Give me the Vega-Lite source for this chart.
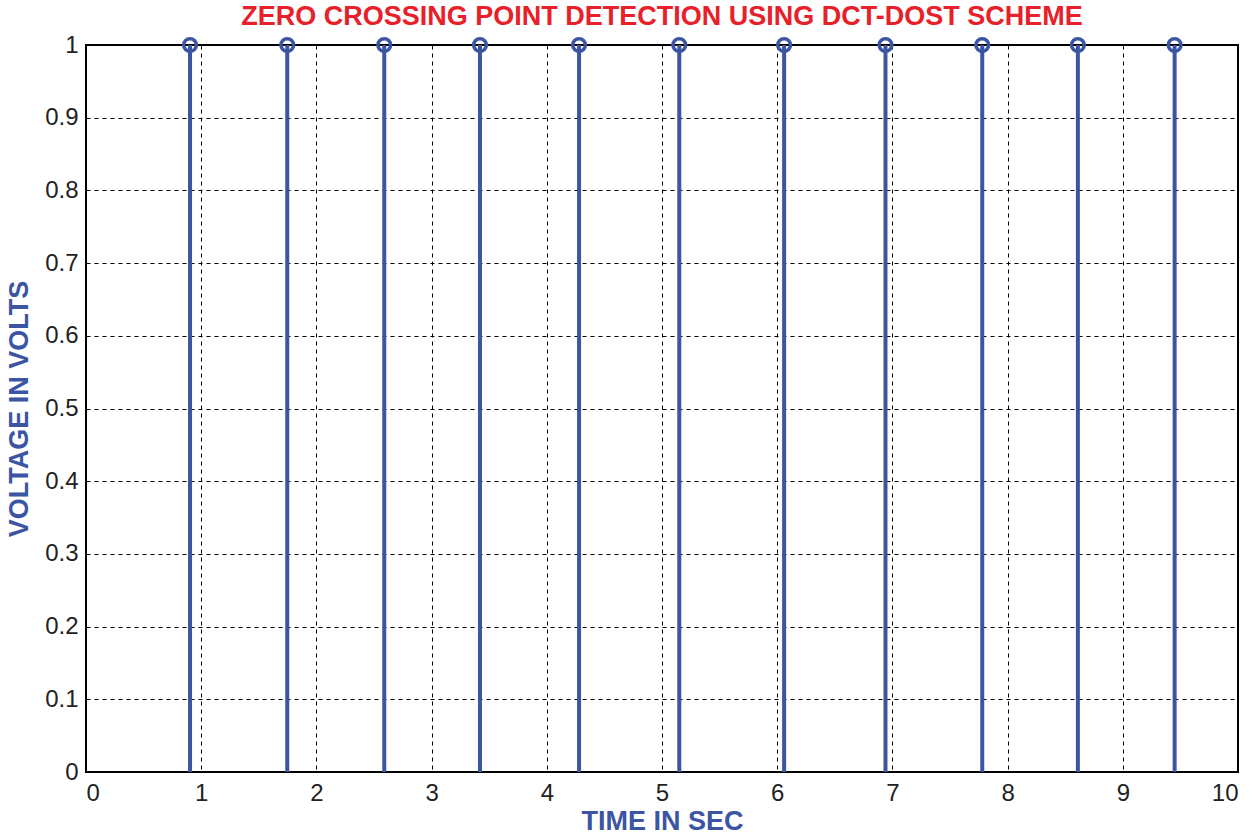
{
  "$schema": "https://vega.github.io/schema/vega-lite/v6.json",
  "autosize": "none",
  "width": 1152,
  "height": 727,
  "padding": {"left": 86, "top": 45, "right": 17, "bottom": 66},
  "background": "white",
  "title": {
    "text": "ZERO CROSSING POINT DETECTION USING DCT-DOST SCHEME",
    "font": "Liberation Sans",
    "fontSize": 27,
    "fontWeight": "bold",
    "color": "#E8202A",
    "anchor": "middle",
    "offset": 1
  },
  "config": {
    "view": {"stroke": "black", "strokeWidth": 2},
    "axis": {
      "grid": true,
      "gridColor": "black",
      "gridDash": [4, 4],
      "gridWidth": 1,
      "gridOpacity": 1,
      "domain": false,
      "ticks": false,
      "labelFont": "Liberation Sans",
      "labelFontSize": 24,
      "labelColor": "#222222",
      "labelPadding": 8,
      "titleFont": "Liberation Sans",
      "titleFontSize": 27,
      "titleFontWeight": "bold",
      "titleColor": "#3B55A3"
    }
  },
  "data": {
    "values": [
      {"t": 0.903, "v": 1},
      {"t": 1.747, "v": 1},
      {"t": 2.589, "v": 1},
      {"t": 3.42, "v": 1},
      {"t": 4.28, "v": 1},
      {"t": 5.15, "v": 1},
      {"t": 6.06, "v": 1},
      {"t": 6.94, "v": 1},
      {"t": 7.78, "v": 1},
      {"t": 8.61, "v": 1},
      {"t": 9.45, "v": 1}
    ]
  },
  "encoding": {
    "x": {
      "field": "t",
      "type": "quantitative",
      "scale": {"domain": [0, 10], "nice": false, "zero": false},
      "axis": {"values": [0,1,2,3,4,5,6,7,8,9,10], "format": "d", "title": "TIME IN SEC", "titlePadding": 3, "labelPadding": 9}
    },
    "y": {
      "field": "v",
      "type": "quantitative",
      "scale": {"domain": [0, 1], "nice": false},
      "axis": {"values": [0,0.1,0.2,0.3,0.4,0.5,0.6,0.7,0.8,0.9,1], "format": "~g", "title": "VOLTAGE IN VOLTS", "titlePadding": 11}
    }
  },
  "layer": [
    {
      "mark": {"type": "rule", "color": "#3B55A3", "strokeWidth": 4},
      "encoding": {"y": {"datum": 0}, "y2": {"field": "v"}}
    },
    {
      "mark": {"type": "point", "shape": "circle", "filled": false, "color": "#3B55A3", "strokeWidth": 3.5, "size": 160, "opacity": 1}
    }
  ]
}
